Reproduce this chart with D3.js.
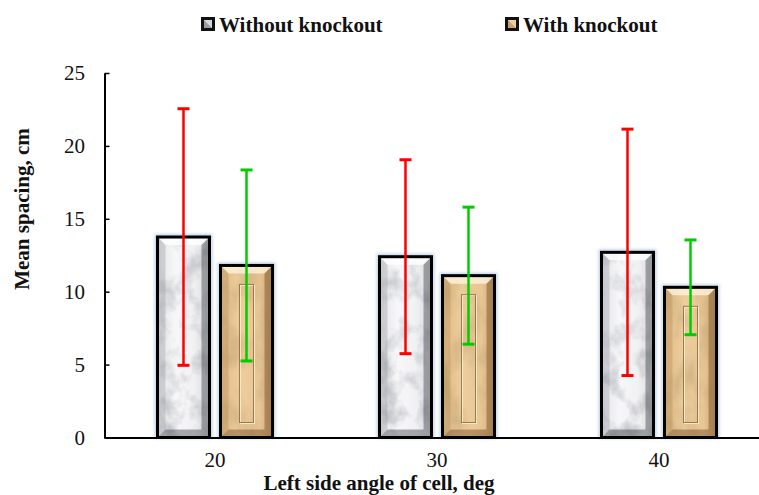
<!DOCTYPE html>
<html>
<head>
<meta charset="utf-8">
<script src="https://cdn.jsdelivr.net/npm/d3@7/dist/d3.min.js"></script>
<style>
  html, body { margin: 0; padding: 0; background: #fff; }
  svg { display: block; }
</style>
</head>
<body>
<div id="chart"></div>
<script>
// ---- data ----
const categories = ["20", "30", "40"];
const seriesNames = ["Without knockout", "With knockout"];
const withoutValues = [13.75, 12.4, 12.7];
const withoutErrors = [8.8, 6.65, 8.45];
const withValues = [11.8, 11.1, 10.3];
const withErrors = [6.55, 4.7, 3.25];
const yTicks = [0, 5, 10, 15, 20, 25];

const W = 759, H = 495;
const FONT = "'Liberation Serif', 'Times New Roman', Times, serif";
const FS = 21;

const svg = d3.select("#chart").append("svg")
  .attr("width", W).attr("height", H)
  .style("background", "#fff");

const defs = svg.append("defs");

// marble textures built from turbulence noise, clipped to the painted shape
function textureFilter(id, rgb, aMul, aOff, freq, seed) {
  const f = defs.append("filter").attr("id", id)
    .attr("x", 0).attr("y", 0).attr("width", 1).attr("height", 1);
  f.append("feTurbulence").attr("type", "fractalNoise")
    .attr("baseFrequency", freq).attr("numOctaves", 4).attr("seed", seed)
    .attr("result", "noise");
  f.append("feColorMatrix").attr("in", "noise").attr("type", "matrix")
    .attr("values", `0 0 0 0 ${rgb[0]}  0 0 0 0 ${rgb[1]}  0 0 0 0 ${rgb[2]}  ${aMul} 0 0 0 ${aOff}`)
    .attr("result", "tint");
  f.append("feComposite").attr("in", "tint").attr("in2", "SourceGraphic").attr("operator", "in");
}
textureFilter("marbleGray", [0.35, 0.36, 0.40], 1.5, -0.68, "0.05 0.04", 7);
textureFilter("marbleTan", [0.55, 0.38, 0.18], 1.3, -0.52, "0.05 0.03", 3);

const glow = defs.append("filter").attr("id", "glow")
  .attr("x", -0.3).attr("y", -0.3).attr("width", 1.6).attr("height", 1.6);
glow.append("feGaussianBlur").attr("stdDeviation", 1.4);

// face shading across the bar width
const gGray = defs.append("linearGradient").attr("id", "faceGray").attr("x1", 0).attr("x2", 1);
[[0, "#e2e3e6"], [0.35, "#f7f7f9"], [0.7, "#f1f1f3"], [1, "#d6d7db"]]
  .forEach(([o, c]) => gGray.append("stop").attr("offset", o).attr("stop-color", c));
const gTan = defs.append("linearGradient").attr("id", "faceTan").attr("x1", 0).attr("x2", 1);
[[0, "#e0bd8a"], [0.4, "#eecd9c"], [0.75, "#e8c694"], [1, "#cca46e"]]
  .forEach(([o, c]) => gTan.append("stop").attr("offset", o).attr("stop-color", c));

// ---- scales ----
const x = d3.scaleBand().domain(categories).range([104, 770]).paddingInner(0).paddingOuter(0);
const xSub = d3.scaleBand().domain(seriesNames).range([0, x.bandwidth()])
  .paddingInner(11 / 63).paddingOuter(0.849);
const y = d3.scaleLinear().domain([0, 25]).range([437.5, 73]);

// ---- axes ----
const yAxis = d3.axisLeft(y).tickValues(yTicks).tickSizeInner(-5).tickSizeOuter(0).tickPadding(19.5);
const gy = svg.append("g").attr("transform", "translate(104.5,0)").call(yAxis);
gy.select(".domain").attr("stroke", "#000").attr("stroke-width", 2);
gy.selectAll(".tick line").attr("stroke", "#000").attr("stroke-width", 1.5);
gy.selectAll(".tick text").attr("font-family", FONT).attr("font-size", FS).attr("fill", "#111");

// ---- bars ----
const series = [
  { name: seriesNames[0], values: withoutValues, errors: withoutErrors, kind: "gray", err: "#ff0000" },
  { name: seriesNames[1], values: withValues, errors: withErrors, kind: "tan", err: "#00cc00" }
];

const bev = 8;
function drawBar(g, x0, y0, w, h, kind) {
  // soft blue halo
  g.append("rect").attr("x", x0 - 3).attr("y", y0 - 3).attr("width", w + 6).attr("height", h + 4)
    .attr("fill", "#c2d4ea").attr("filter", "url(#glow)");
  g.append("rect").attr("x", x0).attr("y", y0).attr("width", w).attr("height", h)
    .attr("fill", kind === "gray" ? "url(#faceGray)" : "url(#faceTan)");
  g.append("rect").attr("x", x0).attr("y", y0).attr("width", w).attr("height", h)
    .attr("fill", "#fff").attr("filter", kind === "gray" ? "url(#marbleGray)" : "url(#marbleTan)");
  const x1 = x0 + w, y1 = y0 + h;
  const faces = kind === "gray"
    ? [["rgba(255,255,255,0.8)", [[x0, y0], [x1, y0], [x1 - bev, y0 + bev], [x0 + bev, y0 + bev]]],
       ["rgba(120,122,130,0.25)", [[x0, y0], [x0 + bev, y0 + bev], [x0 + bev, y1 - bev], [x0, y1]]],
       ["rgba(60,62,70,0.42)", [[x1, y0], [x1, y1], [x1 - bev, y1 - bev], [x1 - bev, y0 + bev]]],
       ["rgba(60,62,70,0.42)", [[x0, y1], [x0 + bev, y1 - bev], [x1 - bev, y1 - bev], [x1, y1]]]]
    : [["rgba(255,245,225,0.75)", [[x0, y0], [x1, y0], [x1 - bev, y0 + bev], [x0 + bev, y0 + bev]]],
       ["rgba(150,105,55,0.22)", [[x0, y0], [x0 + bev, y0 + bev], [x0 + bev, y1 - bev], [x0, y1]]],
       ["rgba(110,70,30,0.42)", [[x1, y0], [x1, y1], [x1 - bev, y1 - bev], [x1 - bev, y0 + bev]]],
       ["rgba(110,70,30,0.42)", [[x0, y1], [x0 + bev, y1 - bev], [x1 - bev, y1 - bev], [x1, y1]]]];
  faces.forEach(([c, pts]) => g.append("polygon").attr("points", pts.map(p => p.join(",")).join(" ")).attr("fill", c));
  if (kind === "tan") {
    const cx = x0 + w / 2;
    g.append("rect").attr("x", cx - 7).attr("y", y0 + 19).attr("width", 14).attr("height", Math.max(0, h - 34))
      .attr("fill", "none").attr("stroke", "rgba(255,240,215,0.8)").attr("stroke-width", 1)
      .attr("transform", "translate(1,1)");
    g.append("rect").attr("x", cx - 7).attr("y", y0 + 19).attr("width", 14).attr("height", Math.max(0, h - 34))
      .attr("fill", "none").attr("stroke", "rgba(125,88,45,0.7)").attr("stroke-width", 1);
  }
  g.append("rect").attr("x", x0).attr("y", y0).attr("width", w).attr("height", h)
    .attr("fill", "none").attr("stroke", "#000").attr("stroke-width", 3);
}

const barsG = svg.append("g");
categories.forEach((cat, i) => {
  series.forEach(s => {
    const bx = x(cat) + xSub(s.name);
    const by = y(s.values[i]);
    drawBar(barsG, bx, by, xSub.bandwidth(), y(0) - by, s.kind);
  });
});

// ---- x axis (drawn after bars so its line sits on the base) ----
const xAxis = d3.axisBottom(x).tickSize(0).tickPadding(15);
const gx = svg.append("g").attr("transform", `translate(0,${y(0)})`).call(xAxis);
gx.select(".domain").attr("stroke", "#000").attr("stroke-width", 2);
gx.selectAll(".tick text").attr("font-family", FONT).attr("font-size", FS).attr("fill", "#111");

// ---- error bars ----
const errG = svg.append("g");
categories.forEach((cat, i) => {
  series.forEach(s => {
    const cx = x(cat) + xSub(s.name) + xSub.bandwidth() / 2;
    const hi = y(s.values[i] + s.errors[i]);
    const lo = y(s.values[i] - s.errors[i]);
    errG.append("line").attr("x1", cx).attr("x2", cx).attr("y1", hi).attr("y2", lo)
      .attr("stroke", s.err).attr("stroke-width", 2.5);
    [hi, lo].forEach(v => errG.append("line").attr("x1", cx - 6).attr("x2", cx + 6)
      .attr("y1", v).attr("y2", v).attr("stroke", s.err).attr("stroke-width", 3));
  });
});

// ---- titles ----
svg.append("text").attr("transform", "translate(29,209) rotate(-90)")
  .attr("text-anchor", "middle").attr("font-family", FONT).attr("font-weight", "bold")
  .attr("font-size", FS).attr("fill", "#111").text("Mean spacing, cm");
svg.append("text").attr("x", 379).attr("y", 489.5)
  .attr("text-anchor", "middle").attr("font-family", FONT).attr("font-weight", "bold")
  .attr("font-size", FS).attr("fill", "#111").text("Left side angle of cell, deg");

// ---- legend ----
const legendX = [201, 505];
series.forEach((s, i) => {
  const g = svg.append("g").attr("transform", `translate(${legendX[i]},17)`);
  g.append("rect").attr("x", 0).attr("y", 0).attr("width", 14).attr("height", 14).attr("fill", "#111");
  g.append("rect").attr("x", 3).attr("y", 3).attr("width", 8).attr("height", 8)
    .attr("fill", s.kind === "gray" ? "#9a9ca2" : "#c9a274");
  g.append("polygon").attr("points", "3,3 11,3 11,11").attr("fill", s.kind === "gray" ? "#d8d9dc" : "#e9cfa9");
  g.append("text").attr("x", 18).attr("y", 14.5).attr("font-family", FONT).attr("font-weight", "bold")
    .attr("font-size", FS).attr("fill", "#111").text(s.name);
});
</script>
</body>
</html>
